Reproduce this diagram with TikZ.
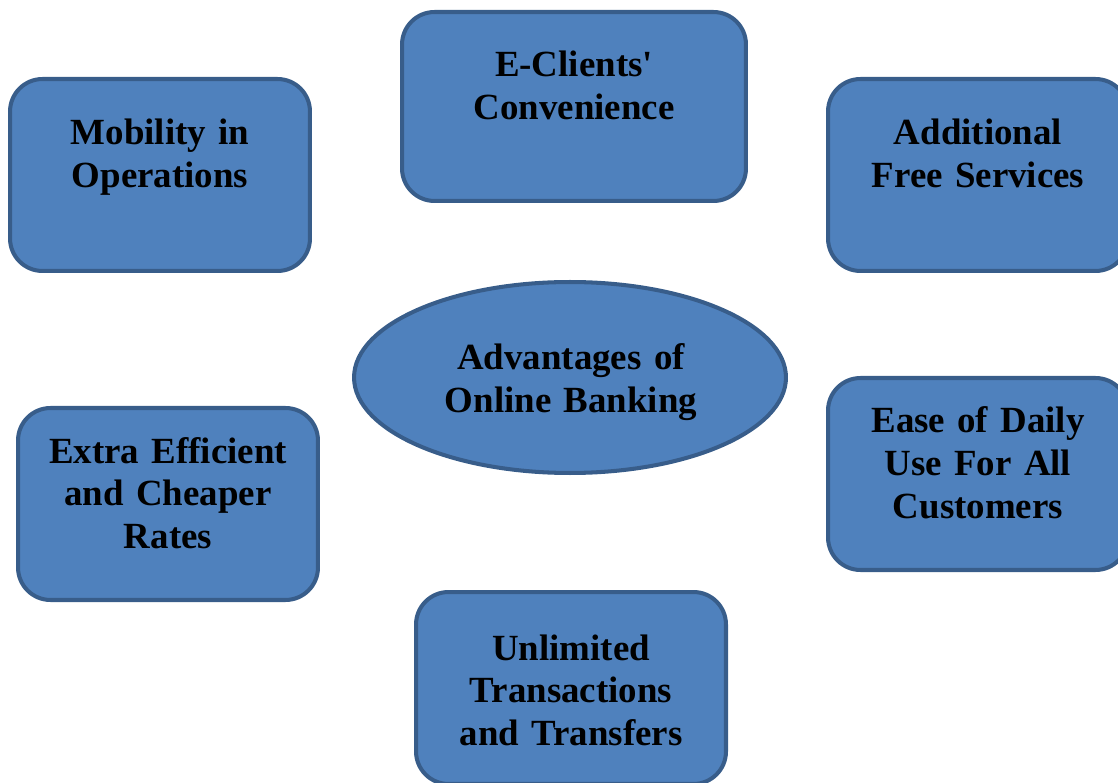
\documentclass[tikz,border=0pt]{standalone}
\usepackage{fontspec}
\setmainfont{Liberation Serif}
\usetikzlibrary{shapes.geometric}
\definecolor{boxfill}{HTML}{4F81BD}
\definecolor{boxline}{HTML}{385D8A}

\begin{document}
\begin{tikzpicture}[x=0.02cm, y=-0.02cm,
		pill/.style={draw=boxline, fill=boxfill, line width=2.3pt, rounded corners=0.65cm,
			minimum width=6cm, minimum height=3.84cm, inner sep=0pt},
		hub/.style={ellipse, draw=boxline, fill=boxfill, line width=2.3pt,
			minimum width=8.64cm, minimum height=3.82cm, inner sep=0pt},
		caption/.style={anchor=base, text width=5.8cm, align=center, inner sep=0pt,
			font=\fontsize{21}{24.4}\selectfont\bfseries}]
	\useasboundingbox (0, 0) rectangle (1118, 783);

	% centre
	\node[hub]	(advantages) at (570, 377.5) {};
	\node[caption]	(advantagestext) at (571, 370) {Advantages of\\Online Banking};

	% boxes round it
	\node[pill]	(mobility) at (160, 175) {};
	\node[caption]	(mobilitytext) at (160, 145) {Mobility in\\Operations};

	\node[pill, minimum width=6.88cm, minimum height=3.78cm]	(clients) at (574, 106.5) {};
	\node[caption]	(clientstext) at (574, 77) {E-Clients\textquotesingle\\Convenience};

	\node[pill]	(freeserv) at (978, 175) {};
	\node[caption]	(freeservtext) at (978, 145) {Additional\\Free Services};

	\node[pill]	(easeuse) at (978, 474) {};
	\node[caption]	(easeusetext) at (978, 433) {Ease of Daily\\Use For All\\Customers};

	\node[pill]	(cheaper) at (168, 504) {};
	\node[caption]	(cheapertext) at (168, 463) {Extra Efficient\\and Cheaper\\Rates};

	\node[pill, minimum width=6.2cm]	(unlimited) at (571, 688) {};
	\node[caption]	(unlimitedtext) at (571, 660) {Unlimited\\Transactions\\and Transfers};
\end{tikzpicture}
\end{document}
